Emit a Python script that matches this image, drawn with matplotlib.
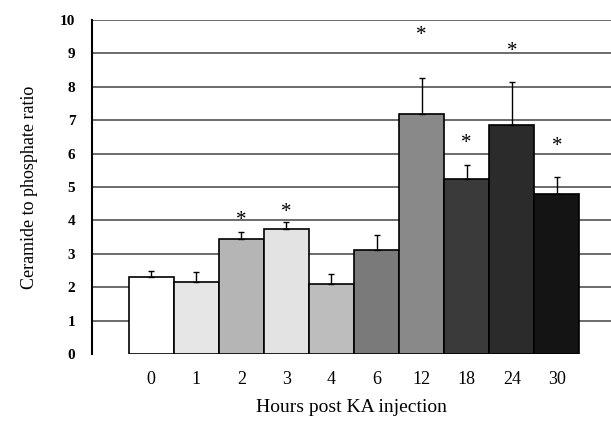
import numpy as np
import matplotlib
matplotlib.use('Agg')
import matplotlib.pyplot as plt

plt.rcParams['font.family'] = ['Liberation Serif', 'DejaVu Serif']

# dane
hours = ['0', '1', '2', '3', '4', '6', '12', '18', '24', '30']
ratio = [2.3, 2.15, 3.45, 3.75, 2.1, 3.1, 7.2, 5.25, 6.85, 4.8]
err = [0.2, 0.3, 0.2, 0.2, 0.3, 0.45, 1.05, 0.4, 1.3, 0.5]
star_y = [None, None, 4.0, 4.25, None, None, 9.55, 6.3, 9.05, 6.2]   # położenie gwiazdek
shades = ['#ffffff', '#e6e6e6', '#b5b5b5', '#e3e3e3', '#bdbdbd',
          '#7a7a7a', '#898989', '#3a3a3a', '#2b2b2b', '#141414']

fig = plt.figure(figsize=(6.11, 4.25), dpi=100)
ax = fig.add_axes([0.1506, 0.167, 0.8494, 0.786])

x = np.arange(len(hours))

# linie siatki
for yv in range(1, 11):
    ax.axhline(yv, color='#444444', lw=1.1, zorder=0)

ax.bar(x, ratio, width=1.0, color=shades, edgecolor='black', linewidth=1.2, zorder=2)
ax.errorbar(x, ratio, yerr=[np.zeros(len(err)), err], fmt='none', ecolor='black',
            elinewidth=1, capsize=2.5, capthick=1, zorder=3)

for xi, sy in zip(x, star_y):
    if sy is not None:
        ax.text(xi, sy, '*', ha='center', va='center', fontsize=15, zorder=4)

ax.set_xlim(-1.31, 10.2)
ax.set_ylim(0, 10)
ax.set_xticks(x)
ax.set_xticklabels(hours, fontsize=13)
ax.set_yticks(range(0, 11))
ax.set_yticklabels([str(v) for v in range(0, 11)], fontsize=11, fontweight='bold')
ax.tick_params(axis='x', length=0, pad=12)
ax.tick_params(axis='y', length=0, pad=12)

for sp in ['top', 'right', 'bottom']:
    ax.spines[sp].set_visible(False)
ax.spines['left'].set_linewidth(1.5)

ax.set_xlabel('Hours post KA injection', fontsize=14, labelpad=8)
ax.set_ylabel('Ceramide to phosphate ratio', fontsize=13, labelpad=16)

plt.savefig('out.png', dpi=100)
